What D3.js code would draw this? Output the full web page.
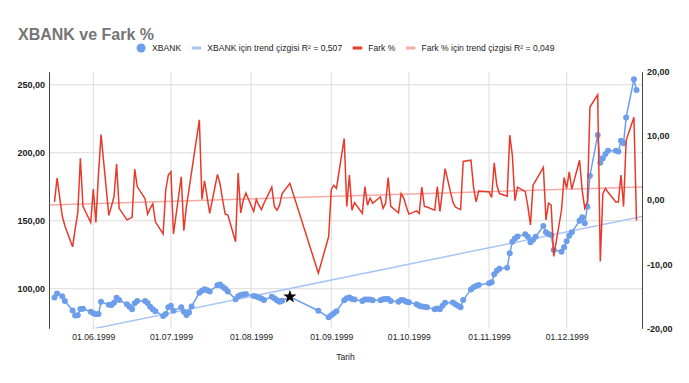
<!doctype html>
<html>
<head>
<meta charset="utf-8">
<title>XBANK ve Fark %</title>
<script src="https://cdn.jsdelivr.net/npm/d3@7"></script>
<style>
  body { margin: 0; background: #fff; }
  svg { display: block; font-family: "Liberation Sans", Arial, sans-serif; }
</style>
</head>
<body>
<svg id="chart" width="689" height="383"></svg>
<script>
// trading days (market closed 17-26 Aug after the earthquake)
const dates = [
  "1999-05-17","1999-05-18","1999-05-20","1999-05-21","1999-05-24","1999-05-25","1999-05-26","1999-05-27","1999-05-28","1999-05-31",
  "1999-06-01","1999-06-02","1999-06-03","1999-06-04","1999-06-07","1999-06-08","1999-06-09","1999-06-10","1999-06-11","1999-06-14",
  "1999-06-15","1999-06-16","1999-06-17","1999-06-18","1999-06-21","1999-06-22","1999-06-23","1999-06-24","1999-06-25","1999-06-28",
  "1999-06-29","1999-06-30","1999-07-01","1999-07-02","1999-07-05","1999-07-06","1999-07-07","1999-07-08","1999-07-09","1999-07-12",
  "1999-07-13","1999-07-14","1999-07-15","1999-07-16","1999-07-19","1999-07-20","1999-07-21","1999-07-22","1999-07-23","1999-07-26",
  "1999-07-27","1999-07-28","1999-07-29","1999-07-30","1999-08-02","1999-08-03","1999-08-04","1999-08-05","1999-08-06","1999-08-09",
  "1999-08-10","1999-08-11","1999-08-12","1999-08-13","1999-08-16","1999-08-27","1999-08-31","1999-09-01","1999-09-02","1999-09-03",
  "1999-09-06","1999-09-07","1999-09-08","1999-09-09","1999-09-10","1999-09-13","1999-09-14","1999-09-15","1999-09-16","1999-09-17",
  "1999-09-20","1999-09-21","1999-09-22","1999-09-23","1999-09-24","1999-09-27","1999-09-28","1999-09-29","1999-09-30","1999-10-01",
  "1999-10-04","1999-10-05","1999-10-06","1999-10-07","1999-10-08","1999-10-11","1999-10-12","1999-10-13","1999-10-14","1999-10-15",
  "1999-10-18","1999-10-19","1999-10-20","1999-10-21","1999-10-22","1999-10-25","1999-10-26","1999-10-27","1999-10-28","1999-11-01",
  "1999-11-02","1999-11-03","1999-11-04","1999-11-05","1999-11-08","1999-11-09","1999-11-10","1999-11-11","1999-11-12","1999-11-15",
  "1999-11-16","1999-11-17","1999-11-18","1999-11-19","1999-11-22","1999-11-23","1999-11-24","1999-11-25","1999-11-26","1999-11-29",
  "1999-11-30","1999-12-01","1999-12-02","1999-12-03","1999-12-06","1999-12-07","1999-12-08","1999-12-09","1999-12-10","1999-12-13",
  "1999-12-14","1999-12-15","1999-12-16","1999-12-17","1999-12-20","1999-12-21","1999-12-22","1999-12-23","1999-12-24","1999-12-27",
  "1999-12-28"
];

const xbank = [
  93.5, 96.5, 94.5, 91.0, 84.0, 80.3, 80.5, 85.1, 85.3, 83.1,
  82.0, 81.2, 81.5, 90.4, 88.2, 88.0, 89.7, 93.4, 91.7, 88.5,
  86.8, 84.9, 89.3, 91.0, 91.0, 89.5, 86.8, 84.9, 83.5, 79.9,
  81.4, 86.3, 87.5, 83.8, 86.3, 83.0, 80.7, 82.5, 87.0, 97.0,
  98.5, 99.6, 98.8, 98.0, 102.5, 103.2, 101.5, 100.0, 98.0, 92.2,
  94.5, 95.4, 95.8, 96.1, 94.6, 94.2, 93.5, 92.9, 91.7, 94.1,
  93.0, 91.5, 90.4, 91.2, 94.1, 83.8, 79.0, 80.5, 82.0, 83.5,
  91.5, 93.0, 93.5, 92.5, 92.0, 91.0, 92.0, 92.0, 92.0, 91.5,
  91.5, 92.2, 92.5, 92.5, 91.0, 90.4, 91.7, 91.5, 90.5, 90.0,
  88.5, 87.5, 87.0, 86.8, 86.3, 84.9, 85.5, 85.0, 87.5, 89.7,
  89.8, 88.5, 87.5, 86.3, 91.7, 99.5, 101.0, 102.0, 102.7, 104.0,
  104.7, 110.6, 113.2, 114.7, 115.4, 126.0, 134.6, 137.0, 138.5, 140.0,
  138.2, 134.1, 136.0, 138.2, 146.1, 141.5, 140.2, 139.5, 128.5, 127.2,
  130.5, 135.0, 139.0, 141.5, 150.0, 152.5, 148.1, 160.3, 183.1, 213.0,
  192.6, 195.9, 199.0, 201.5, 201.5, 201.0, 208.8, 206.9, 226.0, 254.0,
  246.1
];

const fark = [
  -0.3, 3.4, -2.5, -4.0, -7.3, -4.5, -2.0, 6.5, -1.0, -3.5,
  1.7, -3.5, 4.0, 10.2, -2.4, -1.0, 0.5, 5.6, -1.3, -3.1,
  -2.9, -2.7, 4.8, 2.1, 0.2, -2.2, -1.3, -0.6, -3.4, -5.3,
  1.6, 3.9, 4.4, -5.3, 3.6, -4.8, -1.0, 1.6, 4.4, 12.5,
  0.1, 3.0, 0.5, -2.1, 4.0, 2.5, 0.0, -2.2, -2.3, -6.5,
  4.2, -2.0, 0.0, 1.1, -1.8, 0.1, -0.8, -1.5, -0.5, 2.0,
  -1.0, -1.6, -0.8, 1.0, 2.6, -11.4, -5.7, 1.6, 2.3, 1.8,
  9.6, -1.0, 3.9, -1.6, -0.4, -2.1, 2.1, -0.8, 0.3, -0.5,
  0.5, -1.3, -0.5, 3.5, -1.0, -2.0, 1.0, 0.3, -1.0, -2.2,
  -1.7, -2.1, 2.0, -1.0, -1.1, -1.6, 2.1, -1.8, 1.5, 4.9,
  -0.3, -1.1, -1.3, -1.5, 6.0, 6.2, 2.0, -0.3, 1.4, 1.3,
  0.4, 5.8, 2.3, 1.0, 0.6, 10.1, 7.0, -0.1, 2.0, 1.3,
  -1.0, -3.9, 2.3, 3.0, 5.1, -3.1, -0.5, -0.8, -8.8, -1.6,
  3.5, 1.8, 4.4, 1.7, 6.2, 1.5, -1.3, -0.3, 14.5, 16.4,
  -9.6, 1.0, 1.8, 1.2, -0.3, -0.3, 3.9, -1.0, 9.3, 12.9,
  -3.2
];

const starDate = "1999-08-16";
const leftTicks = [100, 150, 200, 250];
const rightTicks = [-20, -10, 0, 10, 20];
const legendLabels = [
  "XBANK",
  "XBANK için trend çizgisi R² = 0,507",
  "Fark %",
  "Fark % için trend çizgisi R² = 0,049"
];

const W = 689, H = 383;
const M = { left: 49, right: 642, top: 71.7, bottom: 328.3 };
const BLUE = "#6d9eeb", BLUE_TREND = "#a8c5f5", RED = "#e8392b", RED_TREND = "#f5aaa3";
const GRID = "#dcdcdc";

const parse = d3.timeParse("%Y-%m-%d");
const rows = dates.map((d, i) => ({ date: parse(d), xbank: xbank[i], fark: fark[i] }));

const tr = d3.formatLocale({ decimal: ",", thousands: ".", grouping: [3], currency: ["", ""], minus: "-" });
const fmt = tr.format(".2f");

const x = d3.scaleTime().domain(d3.extent(rows, d => d.date)).range([M.left + 5.5, M.right - 5.5]);
const yL = d3.scaleLinear().domain([70.9, 259.6]).range([M.bottom, M.top]);
const yR = d3.scaleLinear().domain([-20, 20]).range([M.bottom, M.top]);

const svg = d3.select("#chart");
svg.append("rect").attr("width", W).attr("height", H).attr("fill", "#fff");

svg.append("defs").append("clipPath").attr("id", "plot")
  .append("rect").attr("x", M.left).attr("y", M.top)
  .attr("width", M.right - M.left).attr("height", M.bottom - M.top);

// title
svg.append("text").attr("x", 18).attr("y", 40)
  .attr("font-size", 16).attr("font-weight", "bold").attr("fill", "#757575")
  .text("XBANK ve Fark %");

// gridlines
const grid = svg.append("g");
grid.selectAll(".h").data(leftTicks).enter().append("line")
  .attr("x1", M.left).attr("x2", M.right)
  .attr("y1", d => yL(d)).attr("y2", d => yL(d))
  .attr("stroke", GRID).attr("stroke-width", 1);
grid.selectAll(".v").data(x.ticks(d3.timeMonth.every(1))).enter().append("line")
  .attr("x1", d => x(d)).attr("x2", d => x(d))
  .attr("y1", M.top).attr("y2", M.bottom)
  .attr("stroke", GRID).attr("stroke-width", 1);

// least squares trend lines
function trend(key) {
  const xs = rows.map(d => +d.date), ys = rows.map(d => d[key]);
  const mx = d3.mean(xs), my = d3.mean(ys);
  const b = d3.sum(xs, (v, i) => (v - mx) * (ys[i] - my)) / d3.sum(xs, v => (v - mx) * (v - mx));
  const a = my - b * mx;
  const d0 = x.invert(M.left), d1 = x.invert(M.right);
  return [{ date: d0, v: a + b * +d0 }, { date: d1, v: a + b * +d1 }];
}
const plot = svg.append("g").attr("clip-path", "url(#plot)");
plot.append("path").datum(trend("xbank"))
  .attr("d", d3.line().x(d => x(d.date)).y(d => yL(d.v)))
  .attr("fill", "none").attr("stroke", BLUE_TREND).attr("stroke-width", 1.5);
plot.append("path").datum(trend("fark"))
  .attr("d", d3.line().x(d => x(d.date)).y(d => yR(d.v)))
  .attr("fill", "none").attr("stroke", RED_TREND).attr("stroke-width", 1.5);

// XBANK line + points
plot.append("path").datum(rows)
  .attr("d", d3.line().x(d => x(d.date)).y(d => yL(d.xbank)))
  .attr("fill", "none").attr("stroke", BLUE).attr("stroke-width", 1.5);
plot.selectAll(".pt").data(rows.filter(d => d3.timeFormat("%Y-%m-%d")(d.date) !== starDate))
  .enter().append("circle")
  .attr("cx", d => x(d.date)).attr("cy", d => yL(d.xbank)).attr("r", 3)
  .attr("fill", BLUE);
const star = rows.find(d => d3.timeFormat("%Y-%m-%d")(d.date) === starDate);
svg.append("path")
  .attr("d", d3.symbol(d3.symbolStar, 55)())
  .attr("transform", `translate(${x(star.date)},${yL(star.xbank)})`)
  .attr("fill", "#000");

// Fark % line
plot.append("path").datum(rows)
  .attr("d", d3.line().x(d => x(d.date)).y(d => yR(d.fark)))
  .attr("fill", "none").attr("stroke", RED).attr("stroke-width", 1.5);

// axes
const ax = g => g.selectAll("text").attr("font-size", 9).attr("font-weight", "bold").attr("fill", "#222")
  .attr("font-family", "'Liberation Sans', Arial, sans-serif");
svg.append("g").attr("transform", `translate(${M.left},0)`)
  .call(d3.axisLeft(yL).tickValues(leftTicks).tickSize(0).tickSizeOuter(0).tickPadding(4).tickFormat(fmt))
  .call(g => g.select(".domain").attr("stroke", "#444"))
  .call(ax);
svg.append("g").attr("transform", `translate(${M.right},0)`)
  .call(d3.axisRight(yR).tickValues(rightTicks).tickSize(0).tickSizeOuter(0).tickPadding(5).tickFormat(fmt))
  .call(g => g.select(".domain").attr("stroke", "#444"))
  .call(ax);
svg.append("g").attr("transform", `translate(0,${M.bottom})`)
  .call(d3.axisBottom(x).ticks(d3.timeMonth.every(1)).tickFormat(d3.timeFormat("%d.%m.%Y")).tickSize(0).tickPadding(6))
  .call(g => g.select(".domain").remove())
  .call(g => g.selectAll("text").attr("font-size", 8.6).attr("fill", "#222")
    .attr("font-family", "'Liberation Sans', Arial, sans-serif"));

svg.append("text").attr("x", (M.left + M.right) / 2).attr("y", 360)
  .attr("text-anchor", "middle").attr("font-size", 8.6).attr("fill", "#222")
  .text("Tarih");

// legend
const legend = svg.append("g").attr("font-size", 8.6).attr("fill", "#222");
const kinds = ["dot", "line", "line", "line"];
const colors = [BLUE, BLUE_TREND, RED, RED_TREND];
let cx = 0;
const items = legendLabels.map((label, i) => {
  const g = legend.append("g");
  if (kinds[i] === "dot") {
    g.append("circle").attr("cx", 4.5).attr("cy", 0).attr("r", 4.5).attr("fill", colors[i]);
  } else {
    g.append("rect").attr("x", 0).attr("y", -1.5).attr("width", 9.5).attr("height", 3).attr("fill", colors[i]);
  }
  const t = g.append("text").attr("x", 15.5).attr("y", 3).text(label);
  const w = 15.5 + t.node().getComputedTextLength();
  g.attr("transform", `translate(${cx},0)`);
  cx += w + 10.5;
  return g;
});
const total = cx - 10.5;
legend.attr("transform", `translate(${(M.left + M.right) / 2 - total / 2},48)`);
</script>
</body>
</html>
